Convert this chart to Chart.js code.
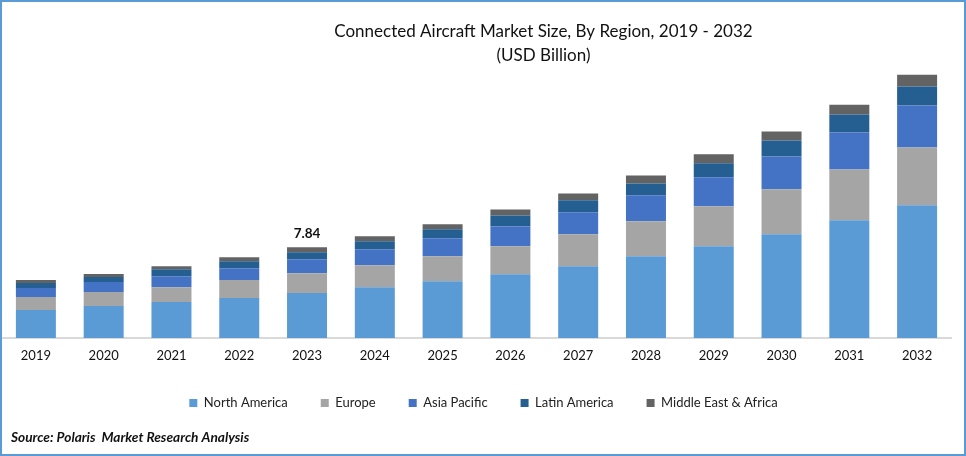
<!DOCTYPE html>
<html>
<head>
<meta charset="utf-8">
<style>
html,body{margin:0;padding:0;background:#fff;}
#frame{position:relative;width:966px;height:456px;box-sizing:border-box;border:2px solid #5B9BD5;background:#fff;overflow:hidden;}
#c{position:absolute;left:-2px;top:-2px;}
</style>
<script src="https://cdn.jsdelivr.net/npm/chart.js@4"></script>
</head>
<body>
<div id="frame"><canvas id="c" width="966" height="456"></canvas></div>
<script>
const categories = ['2019','2020','2021','2022','2023','2024','2025','2026','2027','2028','2029','2030','2031','2032'];
const northAmerica = [2.41,2.76,3.10,3.45,3.88,4.39,4.91,5.51,6.20,7.06,7.93,8.96,10.17,11.46];
const europe = [1.12,1.21,1.29,1.55,1.72,1.90,2.15,2.41,2.76,3.02,3.45,3.88,4.39,5.00];
const asiaPacific = [0.78,0.86,0.95,1.03,1.21,1.38,1.55,1.72,1.90,2.24,2.50,2.84,3.19,3.62];
const latinAmerica = [0.43,0.43,0.60,0.60,0.60,0.69,0.78,0.95,1.03,1.03,1.21,1.38,1.55,1.64];
const middleEastAfrica = [0.26,0.26,0.26,0.34,0.43,0.43,0.43,0.52,0.60,0.69,0.78,0.78,0.86,1.03];
const annotatedCategory = '2023';
const annotatedText = '7.84';
const FONT = 'Lato';

function shiftBox(box, dx, dy) {
  box.left += dx; box.right += dx; box.top += dy; box.bottom += dy;
}

const placeBlocks = {
  id: 'placeBlocks',
  afterLayout(chart) {
    shiftBox(chart.titleBlock, 67, 0);
    shiftBox(chart.legend, 7, -10);
    const sub = chart.boxes.find(b => b !== chart.titleBlock && b !== chart.legend && b.options && b.options.text);
    if (sub) shiftBox(sub, 9, -7);
  }
};

const totalLabel = {
  id: 'totalLabel',
  afterDatasetsDraw(chart) {
    const i = categories.indexOf(annotatedCategory);
    const last = chart.getDatasetMeta(chart.data.datasets.length - 1).data[i];
    const ctx = chart.ctx;
    ctx.save();
    ctx.font = 'bold 13.5px ' + FONT;
    ctx.fillStyle = '#111';
    ctx.textAlign = 'center';
    ctx.textBaseline = 'bottom';
    ctx.fillText(annotatedText, last.x, last.y - 7);
    ctx.restore();
  }
};

new Chart(document.getElementById('c'), {
  type: 'bar',
  data: {
    labels: categories,
    datasets: [
      {label:'North America', data:northAmerica, backgroundColor:'#5B9BD5'},
      {label:'Europe', data:europe, backgroundColor:'#A5A5A5'},
      {label:'Asia Pacific', data:asiaPacific, backgroundColor:'#4472C4'},
      {label:'Latin America', data:latinAmerica, backgroundColor:'#255E91'},
      {label:'Middle East & Africa', data:middleEastAfrica, backgroundColor:'#636363'}
    ]
  },
  options: {
    responsive:false,
    animation:false,
    devicePixelRatio:1,
    layout:{padding:{left:2,right:15,top:0,bottom:3}},
    datasets:{bar:{categoryPercentage:1,barPercentage:0.59,borderWidth:0}},
    scales:{
      x:{stacked:true,grid:{display:false,drawTicks:false},
         border:{color:'#D9D9D9',width:2},
         ticks:{color:'#111',font:{family:FONT,size:13},padding:10,maxRotation:0,autoSkip:false}},
      y:{stacked:true,display:false,min:0,max:23.36}
    },
    plugins:{
      tooltip:{enabled:false},
      title:{display:true,text:['Connected Aircraft Market Size, By Region, 2019 - 2032','(USD Billion)'],
             color:'#111',font:{family:FONT,size:17,weight:'normal',lineHeight:1.4},padding:{top:20,bottom:0}},
      legend:{position:'bottom',
        labels:{color:'#222',font:{family:FONT,size:13},boxWidth:8,boxHeight:8,padding:33}},
      subtitle:{display:true,position:'bottom',align:'start',text:'Source: Polaris  Market Research Analysis',
        color:'#111',font:{family:FONT,size:13.7,style:'italic',weight:'bold'},padding:{top:7,bottom:0}}
    }
  },
  plugins:[placeBlocks,totalLabel]
});
</script>
</body>
</html>
